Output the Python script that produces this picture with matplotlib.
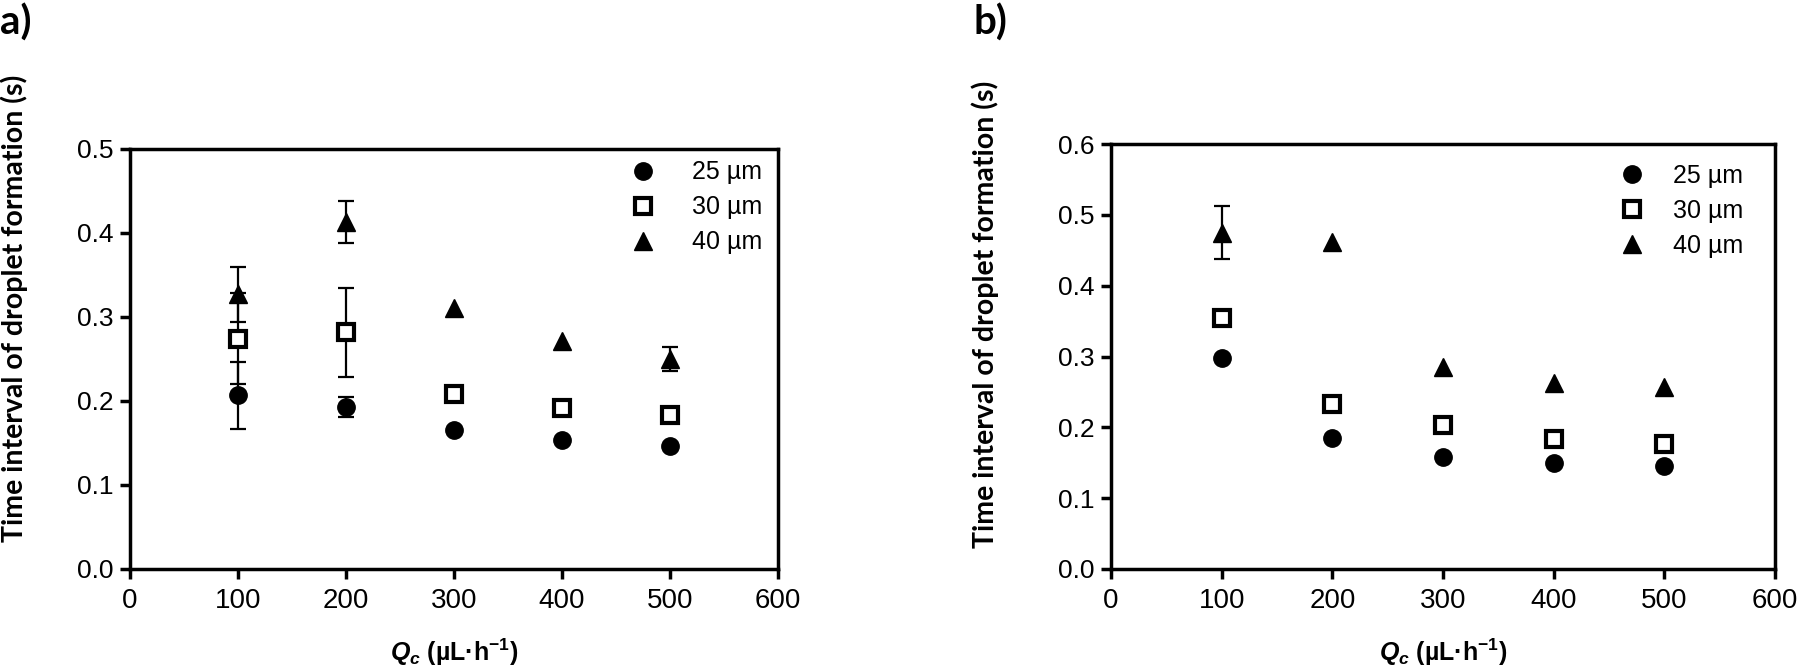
import numpy as np
import matplotlib
matplotlib.use("Agg")
import matplotlib.pyplot as plt

plt.rcParams['font.family'] = ['Liberation Sans', 'DejaVu Sans']
plt.rcParams['mathtext.fontset'] = 'custom'
plt.rcParams['mathtext.it'] = 'Liberation Sans:italic:bold'
plt.rcParams['mathtext.rm'] = 'Liberation Sans:bold'
plt.rcParams['mathtext.bf'] = 'Liberation Sans:bold'

# flow rate of continuous phase
q_c = [100, 200, 300, 400, 500]
x_ticks = [0, 100, 200, 300, 400, 500, 600]
labels = ['25 µm', '30 µm', '40 µm']

# panel a
a_25 = [0.207, 0.193, 0.165, 0.153, 0.147]
a_25_err = [0.040, 0.012, 0.0, 0.0, 0.0]
a_30 = [0.274, 0.282, 0.208, 0.192, 0.183]
a_30_err = [0.054, 0.053, 0.0, 0.0, 0.0]
a_40 = [0.327, 0.413, 0.311, 0.271, 0.250]
a_40_err = [0.033, 0.025, 0.0, 0.0, 0.014]
a_yticks = [0.0, 0.1, 0.2, 0.3, 0.4, 0.5]

# panel b
b_25 = [0.298, 0.185, 0.158, 0.149, 0.145]
b_25_err = [0.0, 0.0, 0.0, 0.0, 0.0]
b_30 = [0.354, 0.233, 0.203, 0.184, 0.177]
b_30_err = [0.0, 0.0, 0.0, 0.0, 0.0]
b_40 = [0.475, 0.462, 0.285, 0.262, 0.257]
b_40_err = [0.037, 0.0, 0.0, 0.0, 0.0]
b_yticks = [0.0, 0.1, 0.2, 0.3, 0.4, 0.5, 0.6]

styles = [dict(marker='o', ms=12.5, mfc='black', mec='black'),
          dict(marker='s', ms=12, mfc='white', mec='black', mew=3),
          dict(marker='^', ms=12.5, mfc='black', mec='black')]

fig = plt.figure(figsize=(18, 6.66), dpi=100)
W, H = 1800, 666


def make_axes(left, right, top, bottom):
    return fig.add_axes([left / W, 1 - bottom / H, (right - left) / W, (bottom - top) / H])


def draw_panel(ax, series, errs, yticks, ylab_pos, leg_anchor, leg_pad):
    x = np.array(q_c)
    for y, e, st, lab in zip(series, errs, styles, labels):
        y = np.array(y)
        e = np.array(e)
        m = e > 0
        if m.any():
            ax.errorbar(x[m], y[m], yerr=e[m], fmt='none', ecolor='black',
                        elinewidth=1.6, capsize=5.5, capthick=1.6, zorder=2)
        ax.plot(x, y, ls='none', label=lab, zorder=3, clip_on=False, **st)
    ax.set_xlim(0, 600)
    ax.set_ylim(yticks[0], yticks[-1])
    ax.set_xticks(x_ticks)
    ax.set_yticks(yticks)
    ax.set_yticklabels(['%.1f' % v for v in yticks])
    for sp in ax.spines.values():
        sp.set_linewidth(2.5)
    ax.tick_params(direction='out', length=7, width=2.5, pad=5)
    ax.tick_params(axis='x', labelsize=20, pad=7)
    ax.tick_params(axis='y', labelsize=19)
    ax.set_ylabel('Time interval of droplet formation (s)', fontsize=20.5,
                  fontweight='bold', family=['Lato', 'DejaVu Sans'])
    ax.yaxis.set_label_coords(*ylab_pos)
    ax.set_xlabel(r'$Q_c$ (µL·h$^{-1}$)', fontsize=18, fontweight='bold')
    ax.xaxis.set_label_coords(0.5, -0.16)
    ax.legend(loc='upper left', bbox_to_anchor=leg_anchor, frameon=False,
              fontsize=18, handletextpad=leg_pad, labelspacing=0.44,
              borderaxespad=0, borderpad=0, handlelength=1.0)


ax_a = make_axes(130, 778, 149, 569)
draw_panel(ax_a, [a_25, a_30, a_40], [a_25_err, a_30_err, a_40_err],
           a_yticks, (-0.157, 0.62), (0.772, 0.973), 1.46)

ax_b = make_axes(1111, 1775, 144, 569)
draw_panel(ax_b, [b_25, b_30, b_40], [b_25_err, b_30_err, b_40_err],
           b_yticks, (-0.169, 0.60), (0.766, 0.954), 1.14)

fig.text(0.0, 0.995, 'a)', fontsize=29, fontweight='bold', va='top',
         family=['Lato', 'DejaVu Sans'])
fig.text(973 / W, 0.995, 'b)', fontsize=29, fontweight='bold', va='top',
         family=['Lato', 'DejaVu Sans'])

fig.savefig('out.png', dpi=100)
